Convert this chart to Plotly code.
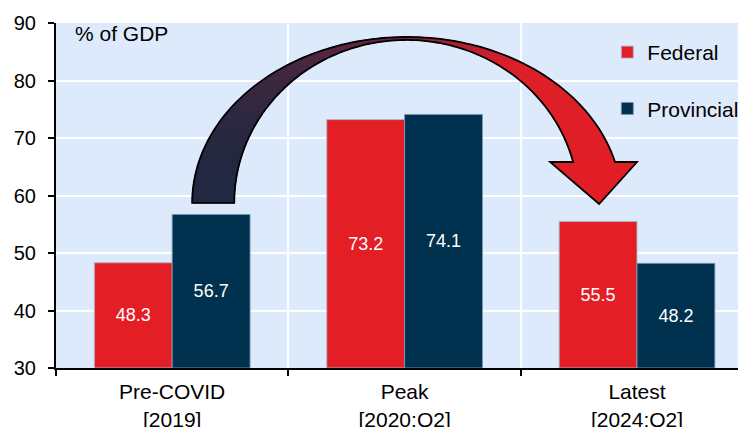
import numpy as np
import plotly.graph_objects as go

# ---- data ----
categories = ["Pre-COVID<br>[2019]", "Peak<br>[2020:Q2]", "Latest<br>[2024:Q2]"]
federal = [48.3, 73.2, 55.5]
provincial = [56.7, 74.1, 48.2]
series_names = ["Federal", "Provincial"]
y_ticks = [30, 40, 50, 60, 70, 80, 90]
Y_MIN, Y_MAX = 30, 90

RED = "#E31E24"
NAVY = "#00324F"
BG = "#DDEAFB"
FONT = "Arial, Liberation Sans, sans-serif"

fig = go.Figure()
for name, vals, col, edge, grp in [
    (series_names[0], federal, RED, "rgba(170,185,205,0.9)", "f"),
    (series_names[1], provincial, NAVY, "rgba(120,150,180,0.9)", "p"),
]:
    fig.add_trace(go.Bar(
        x=categories, y=[v - Y_MIN for v in vals], base=Y_MIN, name=name, legendgroup=grp,
        marker=dict(color=col, line=dict(color=edge, width=1)),
        text=[f"{v:.1f}" for v in vals], textposition="inside",
        insidetextanchor="middle", textfont=dict(color="white", size=18, family=FONT),
        customdata=vals, hovertemplate="%{customdata}<extra>" + name + "</extra>",
    ))

# ---- curved gradient arrow (decoration) ----
cx_o, a_o, b_o = 1.010, 0.924, 28.87
cx_i, a_i, b_i = 1.008, 0.741, 28.35
base_y = 58.7
end_dy = 7.13
head_l, head_r, tip_x, tip_y = 1.626, 2.0, 1.837, 58.52

th_o_end = np.arcsin(end_dy / b_o)
th_i_end = np.arcsin(end_dy / b_i)

def outer(s):
    th = np.pi - s * (np.pi - th_o_end)
    return cx_o + a_o * np.cos(th), base_y + b_o * np.sin(th)

def inner(s):
    th = np.pi - s * (np.pi - th_i_end)
    return cx_i + a_i * np.cos(th), base_y + b_i * np.sin(th)

x_left = cx_o - a_o
x_right = head_r
stops = [(0.0, (24, 40, 64)), (0.45, (110, 36, 62)), (0.72, (220, 31, 42)), (1.0, (227, 30, 36))]

def grad(x):
    t = min(max((x - x_left) / (x_right - x_left), 0), 1)
    for (t0, c0), (t1, c1) in zip(stops[:-1], stops[1:]):
        if t <= t1:
            f = (t - t0) / (t1 - t0)
            c = [int(round(c0[k] + f * (c1[k] - c0[k]))) for k in range(3)]
            return f"rgb({c[0]},{c[1]},{c[2]})"
    return "rgb(227,30,36)"

N = 90
ss = np.linspace(0, 1, N + 1)
for i in range(N):
    p1 = outer(ss[i]); p2 = outer(ss[i + 1]); p3 = inner(ss[i + 1]); p4 = inner(ss[i])
    col = grad((p1[0] + p2[0] + p3[0] + p4[0]) / 4)
    path = f"M{p1[0]},{p1[1]} L{p2[0]},{p2[1]} L{p3[0]},{p3[1]} L{p4[0]},{p4[1]} Z"
    fig.add_shape(type="path", path=path, xref="x", yref="y", fillcolor=col,
                  line=dict(color=col, width=1), layer="above")

oe = outer(1.0); ie = inner(1.0)
head_col = grad((head_l + head_r) / 2)
fig.add_shape(type="path",
              path=f"M{ie[0]},{ie[1]} L{head_l},{ie[1]} L{tip_x},{tip_y} L{head_r},{oe[1]} L{oe[0]},{oe[1]} Z",
              xref="x", yref="y", fillcolor=head_col, line=dict(color=head_col, width=1), layer="above")

pts = [outer(s) for s in np.linspace(0, 1, 120)]
pts += [(head_r, oe[1]), (tip_x, tip_y), (head_l, ie[1])]
pts += [inner(s) for s in np.linspace(1, 0, 120)]
outline = "M" + " L".join(f"{x},{y}" for x, y in pts) + " Z"
fig.add_shape(type="path", path=outline, xref="x", yref="y",
              line=dict(color="black", width=1.8), layer="above")

fig.add_annotation(text="% of GDP", x=-0.425, y=88.1, xref="x", yref="y",
                   xanchor="left", yanchor="middle", showarrow=False,
                   font=dict(size=21, color="black", family=FONT))

fig.update_layout(
    width=746, height=427,
    margin=dict(l=48, r=8, t=15, b=67, autoexpand=False),
    paper_bgcolor="white", plot_bgcolor=BG,
    barmode="group", bargap=0.33, bargroupgap=0,
    font=dict(family=FONT, color="black"),
    showlegend=True,
    legend=dict(x=0.799, y=0.974, xanchor="left", yanchor="top",
                bgcolor="rgba(0,0,0,0)", font=dict(size=21, color="black", family=FONT),
                traceorder="grouped", tracegroupgap=26),
    xaxis=dict(type="category", range=[-0.5, 2.469], tickson="boundaries",
               automargin=False,
               showgrid=True, gridcolor="white", gridwidth=2,
               showline=True, linecolor="black", linewidth=2,
               ticks="outside", ticklen=6, tickcolor="black", tickwidth=1.5,
               ticklabelstandoff=4,
               tickfont=dict(size=21, color="black", family=FONT)),
    yaxis=dict(range=[Y_MIN, Y_MAX], tickvals=y_ticks, showgrid=True, gridcolor="white",
               automargin=False,
               gridwidth=2, showline=True, linecolor="black", linewidth=2,
               ticks="outside", ticklen=6, tickcolor="black", tickwidth=1.5,
               ticklabelstandoff=8,
               zeroline=False, tickfont=dict(size=20, color="black", family=FONT)),
)

fig.write_html("out.html")
